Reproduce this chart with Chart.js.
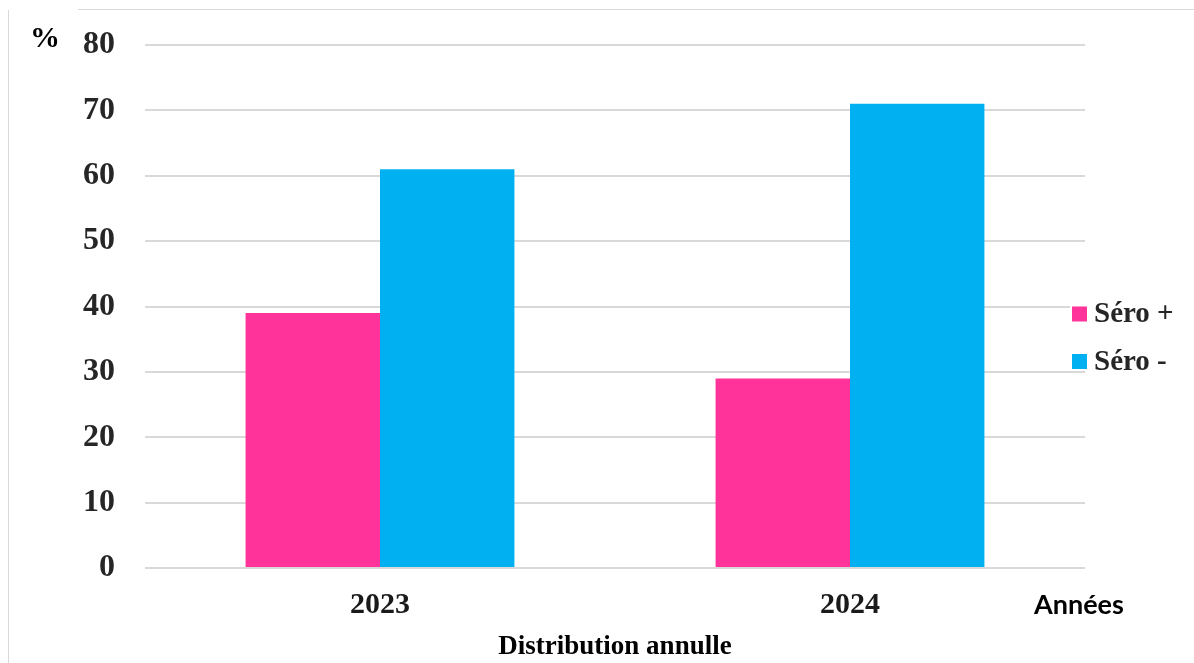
<!DOCTYPE html>
<html>
<head>
<meta charset="utf-8">
<script src="https://cdn.jsdelivr.net/npm/chart.js@4/dist/chart.umd.min.js"></script>
<style>
  html, body { margin: 0; padding: 0; background: #fff; }
  #wrap { position: relative; width: 1194px; height: 663px; }
</style>
</head>
<body>
<div id="wrap"><canvas id="chart"></canvas></div>
<script>
// données
var annees = ['2023', '2024'];
var seroPositif = [39, 29];
var seroNegatif = [61, 71];
var legendeLabels = ['Séro +', 'Séro -'];
var couleurs = ['#FF3399', '#00B0F0'];

var serif = '"Liberation Serif", "Times New Roman", serif';

// titres annexes, cadre et légende dessinés à la main
var extras = {
    id: 'extras',
    afterDraw: function (chart) {
        var ctx = chart.ctx;
        var area = chart.chartArea;
        ctx.save();

        // cadre gris clair
        ctx.strokeStyle = '#d9d9d9';
        ctx.lineWidth = 1;
        ctx.beginPath();
        ctx.moveTo(78, 9.5);
        ctx.lineTo(1194, 9.5);
        ctx.moveTo(8.5, 10);
        ctx.lineTo(8.5, 663);
        ctx.stroke();

        // unité
        ctx.fillStyle = '#000';
        ctx.font = 'bold 30px ' + serif;
        ctx.textAlign = 'center';
        ctx.textBaseline = 'middle';
        ctx.fillText('%', 45, 39);

        // Années
        ctx.fillStyle = '#000';
        ctx.font = 'bold 27px Lato, "Open Sans", sans-serif';
        ctx.textAlign = 'left';
        ctx.fillText('Années', 1034, 605);

        // légende
        var lx = area.right - 13;
        var ly = 314;
        ctx.fillStyle = '#fff';
        ctx.fillRect(lx - 2, ly - 14, 1194 - lx, 62);
        chart.data.datasets.forEach(function (ds, i) {
            var cy = ly + i * 47.5;
            ctx.fillStyle = ds.backgroundColor;
            ctx.fillRect(lx, cy - 7.5, 15, 15);
            ctx.fillStyle = '#262626';
            ctx.font = 'bold 29px ' + serif;
            ctx.textAlign = 'left';
            ctx.textBaseline = 'middle';
            ctx.fillText(ds.label, lx + 22, cy + 1);
        });
        ctx.restore();
    }
};

var ctx = document.getElementById('chart').getContext('2d');
new Chart(ctx, {
    type: 'bar',
    data: {
        labels: annees,
        datasets: [{
            label: legendeLabels[0],
            data: seroPositif,
            backgroundColor: couleurs[0],
            barPercentage: 1,
            categoryPercentage: 0.572
        }, {
            label: legendeLabels[1],
            data: seroNegatif,
            backgroundColor: couleurs[1],
            barPercentage: 1,
            categoryPercentage: 0.572
        }]
    },
    options: {
        responsive: true,
        maintainAspectRatio: false,
        animation: false,
        layout: { padding: { top: 45, right: 109, bottom: 0, left: 0 } },
        plugins: {
            legend: { display: false },
            tooltip: { enabled: false }
        },
        scales: {
            x: {
                grid: { display: false, drawTicks: false },
                border: { display: false },
                ticks: {
                    color: '#1a1a1a',
                    padding: 19,
                    font: { family: serif, size: 30, weight: 'bold' }
                },
                title: {
                    display: true,
                    text: 'Distribution annulle',
                    color: '#000',
                    padding: { top: 0, bottom: 0 },
                    font: { family: serif, size: 27, weight: 'bold' }
                },
                afterFit: function (scale) { scale.height = 95; }
            },
            y: {
                min: 0,
                max: 80,
                grid: { color: '#d9d9d9', lineWidth: 2, drawTicks: false },
                border: { display: false },
                ticks: {
                    stepSize: 10,
                    color: '#262626',
                    padding: 30,
                    font: { family: serif, size: 32, weight: 'bold' }
                },
                afterFit: function (scale) {
                    scale.width = 145;
                    scale.paddingTop = 0;
                    scale.paddingBottom = 0;
                }
            }
        }
    },
    plugins: [extras]
});
</script>
</body>
</html>
